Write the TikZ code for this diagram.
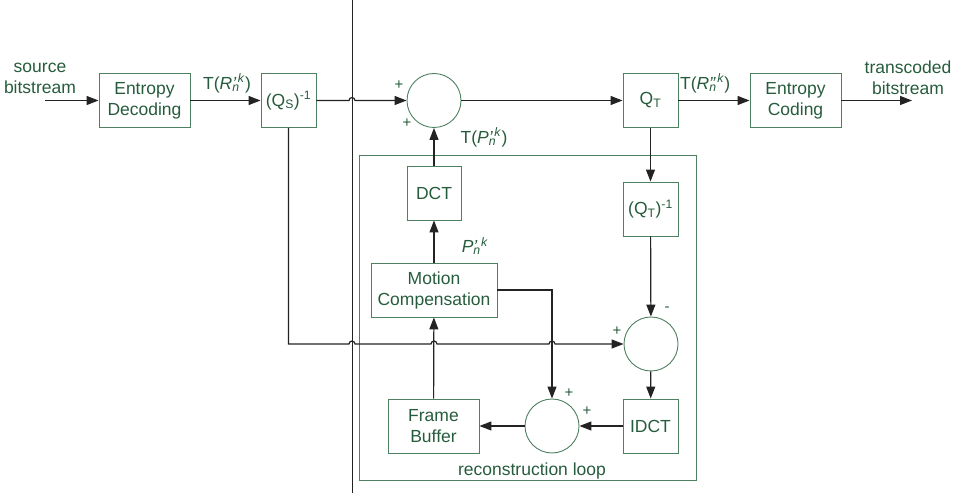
\documentclass[tikz,border=0pt]{standalone}
\usepackage{fontspec}
\setmainfont{Liberation Sans}
\usetikzlibrary{arrows.meta}
\definecolor{boxgreen}{RGB}{78,128,98}
\definecolor{txtgreen}{RGB}{38,92,60}
\definecolor{wire}{RGB}{35,35,35}
\newcommand{\subsup}[4]{\textit{#1}\rlap{\textsubscript{\textit{#2}}}\textit{#3}\kern1.5pt\textsuperscript{\textit{#4}}}

\begin{document}
\begin{tikzpicture}[
    x=1pt,y=1pt,
    font=\fontsize{17.5}{21}\selectfont,
    every node/.style={text=txtgreen,inner sep=0pt},
    blk/.style={draw=boxgreen,line width=0.9pt,align=center,minimum height=54pt},
    sumc/.style={circle,draw=boxgreen,line width=0.9pt,minimum size=54pt},
    lbl/.style={align=center},
    sgn/.style={font=\fontsize{15}{15}\selectfont},
    wireln/.style={draw=wire,line width=1.2pt},
    >={Triangle[length=12pt,width=9pt]}
]
\useasboundingbox (0,0) rectangle (954,496);

\node[draw=boxgreen,line width=0.9pt,minimum width=337pt,minimum height=325pt] (loop) at (527.5,178.5) {};
\node[lbl] (looplbl) at (532,25) {reconstruction loop};

\node[blk,minimum width=91pt] (ed) at (144.5,395.5) {Entropy\\Decoding};
\node[blk,minimum width=55pt] (qs) at (288.5,395.5) {(Q\textsubscript{S})\textsuperscript{-1}};
\node[sumc] (sum1) at (434,395.5) {};
\node[blk,minimum width=55pt] (qt) at (650.5,395.5) {Q\textsubscript{T}};
\node[blk,minimum width=91pt] (ec) at (795.5,395.5) {Entropy\\Coding};

\node[blk,minimum width=54pt] (dct) at (434,303) {DCT};
\node[blk,minimum width=55pt] (qti) at (650.5,287) {(Q\textsubscript{T})\textsuperscript{-1}};
\node[blk,minimum width=126pt] (mc) at (434,206) {Motion\\Compensation};
\node[sumc] (sub) at (651,152) {};
\node[blk,minimum width=55pt] (idct) at (650.5,70) {IDCT};
\node[sumc] (sum2) at (552,70) {};
\node[blk,minimum width=91pt] (fb) at (433.5,70) {Frame\\Buffer};

\node[lbl] (srclbl) at (40,418) {source\\bitstream};
\node[lbl] (outlbl) at (908,418) {transcoded\\bitstream};
\node[lbl] (rlbl) at (227,412.5) {T(\subsup{R}{n}{’}{k})};
\node[lbl,anchor=west] (rrlbl) at (680,412.5) {T(\subsup{R}{n}{”}{k})};
\node[lbl] (plbl) at (484,358.5) {T(\subsup{P}{n}{’}{k})};
\node[lbl] (pmclbl) at (475,250) {\subsup{P}{n}{’}{\,k}};

\node[sgn] at (399,411) {+};
\node[sgn] at (407,373) {+};
\node[sgn] at (617,165) {+};
\node[sgn] at (667,187) {-};
\node[sgn] at (569,103) {+};
\node[sgn] at (587,85) {+};

\coordinate (src) at (45,395.5);
\coordinate (out) at (912,395.5);
\coordinate (vtop) at (352,496);
\coordinate (vbot) at (352,3);
\draw[draw=wire,line width=0.8pt] (vtop) -- (vbot);

\draw[wireln,->] (src) -- (ed);
\draw[wireln,->] (ed) -- (qs);
\draw[wireln,->] (qs.east) -- ([xshift=-3pt]vtop|-qs.east)
    arc[start angle=180,end angle=0,radius=3pt] -- (sum1.west);
\draw[wireln,->] (sum1) -- (qt);
\draw[wireln,->] (qt) -- (ec);
\draw[wireln,->] (ec) -- (out);
\draw[wireln,->] (qt) -- (qti);
\draw[wireln,->] (qti) -- (sub);
\draw[wireln,->] (sub) -- (idct);
\draw[wireln,->] (idct) -- (sum2);
\draw[wireln,->] (sum2) -- (fb);
\draw[wireln,->] (fb) -- (mc);
\draw[wireln,->] (mc) -- (dct);
\draw[wireln,->] (dct) -- (sum1);
\draw[wireln,->] (mc.east) -| (sum2.north);
\draw[wireln,->] (qs.south) |- ([xshift=-3pt]vtop|-sub.west)
    arc[start angle=180,end angle=0,radius=3pt] -- ([xshift=-3pt]mc.south|-sub.west)
    arc[start angle=180,end angle=0,radius=3pt] -- ([xshift=-3pt]sum2.north|-sub.west)
    arc[start angle=180,end angle=0,radius=3pt] -- (sub.west);
\end{tikzpicture}
\end{document}
